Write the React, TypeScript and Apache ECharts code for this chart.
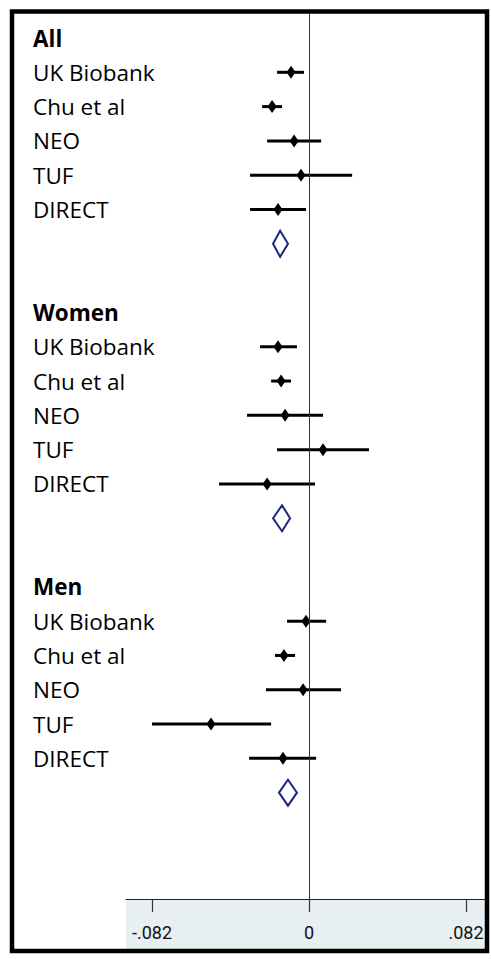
import React, { useEffect, useRef } from "react";
import * as echarts from "echarts";

const groups = ["All", "Women", "Men"];
const studies = ["UK Biobank", "Chu et al", "NEO", "TUF", "DIRECT"];

// point estimates and 95% CI per group (order of studies)
const estAll = [-0.0094, -0.0193, -0.0078, -0.0042, -0.0162];
const loAll = [-0.0167, -0.0245, -0.0219, -0.0308, -0.0308];
const hiAll = [-0.0026, -0.0141, 0.0063, 0.0225, -0.0016];

const estWomen = [-0.0162, -0.0146, -0.0125, 0.0073, -0.0219];
const loWomen = [-0.0256, -0.0198, -0.0324, -0.0167, -0.047];
const hiWomen = [-0.0063, -0.0094, 0.0073, 0.0313, 0.0031];

const estMen = [-0.0016, -0.0131, -0.0031, -0.0512, -0.0136];
const loMen = [-0.0115, -0.0178, -0.0225, -0.082, -0.0313];
const hiMen = [0.0089, -0.0073, 0.0167, -0.0198, 0.0037];

// pooled estimates (diamonds) per group
const pooledEst = [-0.0151, -0.0141, -0.011];
const pooledLo = [-0.0188, -0.0188, -0.0157];
const pooledHi = [-0.011, -0.0099, -0.0063];

const xTicks = [-0.082, 0, 0.082];
const xTickLabels = ["-.082", "0", ".082"];

const groupEst = [estAll, estWomen, estMen];
const groupLo = [loAll, loWomen, loMen];
const groupHi = [hiAll, hiWomen, hiMen];

export default function App() {
  const ref = useRef<HTMLDivElement>(null);
  useEffect(() => {
    if (!ref.current) return;
    const chart = echarts.init(ref.current, null, { renderer: "svg" });

    const rowLabels: Record<number, string> = {};
    const studyData: number[][] = [];
    const pooledData: number[][] = [];
    groups.forEach((g, gi) => {
      const base = gi * 8;
      rowLabels[base] = "{b|" + g + "}";
      studies.forEach((s, si) => {
        rowLabels[base + 1 + si] = "{n|" + s + "}";
        studyData.push([groupEst[gi][si], groupLo[gi][si], groupHi[gi][si], base + 1 + si]);
      });
      pooledData.push([pooledEst[gi], pooledLo[gi], pooledHi[gi], base + 6]);
    });
    const labelRows = Object.keys(rowLabels).map(Number);

    const option: any = {
      animation: false,
      backgroundColor: "#ffffff",
      grid: { left: 126, right: 6, top: 14, bottom: 60, containLabel: false },
      xAxis: {
        type: "value",
        position: "bottom",
        min: -0.0956,
        max: 0.0919,
        splitLine: { show: false },
        axisLine: { show: true, onZero: false, lineStyle: { color: "#222", width: 1 } },
        axisTick: { show: true, length: 13, customValues: xTicks, lineStyle: { color: "#333", width: 1.2 } },
        axisLabel: {
          customValues: xTicks,
          margin: 24,
          fontFamily: "Roboto",
          fontSize: 18,
          color: "#111",
          formatter: (v: number) => {
            const i = xTicks.findIndex((t) => Math.abs(t - v) < 1e-6);
            return i >= 0 ? xTickLabels[i] : "";
          },
        },
      },
      yAxis: {
        type: "value",
        inverse: true,
        min: -0.7,
        max: 25.1,
        splitLine: { show: false },
        axisLine: { show: false },
        axisTick: { show: false },
        axisLabel: {
          customValues: labelRows,
          align: "left",
          margin: 93,
          formatter: (v: number) => rowLabels[Math.round(v)] || "",
          rich: {
            b: { fontFamily: "Open Sans", fontWeight: "bold", fontSize: 22.5, color: "#000" },
            n: { fontFamily: "Open Sans", fontSize: 22.5, color: "#000" },
          },
        },
      },
      graphic: [
        {
          type: "rect",
          shape: { x: 126, y: 899, width: 360, height: 50 },
          style: { fill: "#e8eff2" },
          z: -1,
          silent: true,
        },
        {
          type: "rect",
          shape: { x: 12, y: 11.5, width: 475, height: 939.5 },
          style: { fill: "none", stroke: "#000", lineWidth: 4.5 },
          z: 100,
          silent: true,
        },
      ],
      series: [
        {
          type: "custom",
          name: "studies",
          data: studyData,
          encode: { x: [0, 1, 2], y: 3 },
          renderItem: (params: any, api: any) => {
            const row = api.value(3);
            const p = api.coord([api.value(0), row]);
            const lo = api.coord([api.value(1), row]);
            const hi = api.coord([api.value(2), row]);
            return {
              type: "group",
              children: [
                {
                  type: "line",
                  shape: { x1: lo[0], y1: lo[1], x2: hi[0], y2: hi[1] },
                  style: { stroke: "#000", lineWidth: 3 },
                },
                {
                  type: "polygon",
                  shape: {
                    points: [
                      [p[0], p[1] - 6.5],
                      [p[0] + 4.5, p[1]],
                      [p[0], p[1] + 6.5],
                      [p[0] - 4.5, p[1]],
                    ],
                  },
                  style: { fill: "#000" },
                },
              ],
            };
          },
          markLine: {
            silent: true,
            symbol: "none",
            label: { show: false },
            lineStyle: { color: "#333", width: 1, type: "solid" },
            data: [{ xAxis: 0 }],
          },
          z: 3,
        },
        {
          type: "custom",
          name: "pooled",
          data: pooledData,
          encode: { x: [0, 1, 2], y: 3 },
          renderItem: (params: any, api: any) => {
            const row = api.value(3);
            const p = api.coord([api.value(0), row]);
            const lo = api.coord([api.value(1), row]);
            const hi = api.coord([api.value(2), row]);
            return {
              type: "polygon",
              shape: {
                points: [
                  [lo[0], p[1]],
                  [p[0], p[1] - 13],
                  [hi[0], p[1]],
                  [p[0], p[1] + 13],
                ],
              },
              style: { fill: "#fff", stroke: "#1c2680", lineWidth: 2 },
            };
          },
          z: 4,
        },
      ],
    };
    chart.setOption(option);
    return () => chart.dispose();
  }, []);
  return (
    <div
      ref={ref}
      style={{ position: "fixed", left: 0, top: 0, width: 491, height: 959 }}
    />
  );
}
